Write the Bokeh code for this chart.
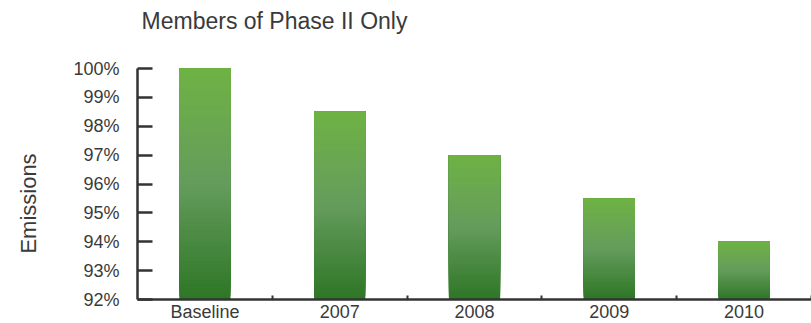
from bokeh.plotting import figure
from bokeh.models import Range1d, FixedTicker, Label, PrintfTickFormatter
from bokeh.embed import file_html
from bokeh.resources import INLINE

# ---- data ----
categories = ["Baseline", "2007", "2008", "2009", "2010"]
emissions = [100.0, 98.5, 97.0, 95.5, 94.0]
y_ticks = [92, 93, 94, 95, 96, 97, 98, 99, 100]
y_base = 92
title_text = "Members of Phase II Only"
y_label = "Emissions"

# ---- style ----
FONT = "Liberation Sans"
TEXT = "#3a3a3a"
AXIS = "#333333"
top_rgb = (111, 178, 68)
mid_rgb = (100, 156, 92)
bot_rgb = (46, 118, 38)
BAR_W = 0.38
N_SLICES = 60

W, H = 811, 323
PX_X = 134.8    # pixels per category
PX_Y = 28.875   # pixels per percent
LEFT_PX, TOP_PX, BOTTOM_PX = 137, 68, 24
n = len(categories)
x0 = -LEFT_PX / PX_X
x1 = x0 + W / PX_X
y1 = y_ticks[-1] + TOP_PX / PX_Y
y0 = y_ticks[0] - BOTTOM_PX / PX_Y


def grad(f):
    # f: 0 bottom -> 1 top
    if f < 0.5:
        a, b, t = bot_rgb, mid_rgb, f / 0.5
    else:
        a, b, t = mid_rgb, top_rgb, (f - 0.5) / 0.5
    c = tuple(int(round(a[i] + (b[i] - a[i]) * t)) for i in range(3))
    return "#%02x%02x%02x" % c


p = figure(width=W, height=H, output_backend="svg", toolbar_location=None,
           x_range=Range1d(x0, x1), y_range=Range1d(y0, y1),
           min_border=0, min_border_left=0, min_border_right=0,
           min_border_top=0, min_border_bottom=0)
p.outline_line_color = None
p.xgrid.visible = False
p.ygrid.visible = False
p.background_fill_color = "white"
p.border_fill_color = "white"

# gradient bars: layered slices, each from its own level up to the bar top
L, R, B, T, C = [], [], [], [], []
for i, v in enumerate(emissions):
    xc = i + 0.5
    for k in range(N_SLICES):
        b = y_base + (v - y_base) * k / N_SLICES
        L.append(xc - BAR_W / 2)
        R.append(xc + BAR_W / 2)
        B.append(b)
        T.append(v)
        C.append(grad((k + 0.5) / N_SLICES))
p.quad(left=L, right=R, bottom=B, top=T, fill_color=C, line_color=None)

# x axis
xa = p.xaxis[0]
centers = [i + 0.5 for i in range(n)]
bounds = [i + 1 for i in range(n)]
xa.fixed_location = y_ticks[0]
xa.bounds = (0, n)
xa.ticker = FixedTicker(ticks=centers, minor_ticks=bounds)
xa.major_label_overrides = {c: name for c, name in zip(centers, categories)}
xa.major_tick_in = 0
xa.major_tick_out = 0
xa.minor_tick_in = 4
xa.minor_tick_out = 0
xa.minor_tick_line_width = 2
xa.minor_tick_line_color = AXIS
xa.axis_line_width = 2.5
xa.axis_line_color = AXIS
xa.major_label_standoff = 2
xa.major_label_text_font = FONT
xa.major_label_text_font_size = "18px"
xa.major_label_text_color = TEXT

# y axis
ya = p.yaxis[0]
ya.fixed_location = 0
ya.bounds = (y_ticks[0], y_ticks[-1])
ya.ticker = FixedTicker(ticks=y_ticks, minor_ticks=[])
ya.formatter = PrintfTickFormatter(format="%d%%")
ya.major_tick_in = 15
ya.major_tick_out = 0
ya.major_tick_line_width = 2.5
ya.major_tick_line_color = AXIS
ya.minor_tick_in = 0
ya.minor_tick_out = 0
ya.axis_line_width = 2.5
ya.axis_line_color = AXIS
ya.major_label_standoff = 18
ya.major_label_text_font = FONT
ya.major_label_text_font_size = "18px"
ya.major_label_text_color = TEXT

# title and y label
p.add_layout(Label(x=0.03, y=y1 - 20 / PX_Y, text=title_text, text_align="left",
                   text_baseline="middle", text_font=FONT, text_font_size="23px",
                   text_color=TEXT))
p.add_layout(Label(x=x0 + 28 / PX_X, y=y1 - 203 / PX_Y, text=y_label, angle=1.5707963,
                   text_align="center", text_baseline="middle", text_font=FONT,
                   text_font_size="22px", text_color=TEXT))

open("out.html", "w").write(file_html(p, INLINE))
